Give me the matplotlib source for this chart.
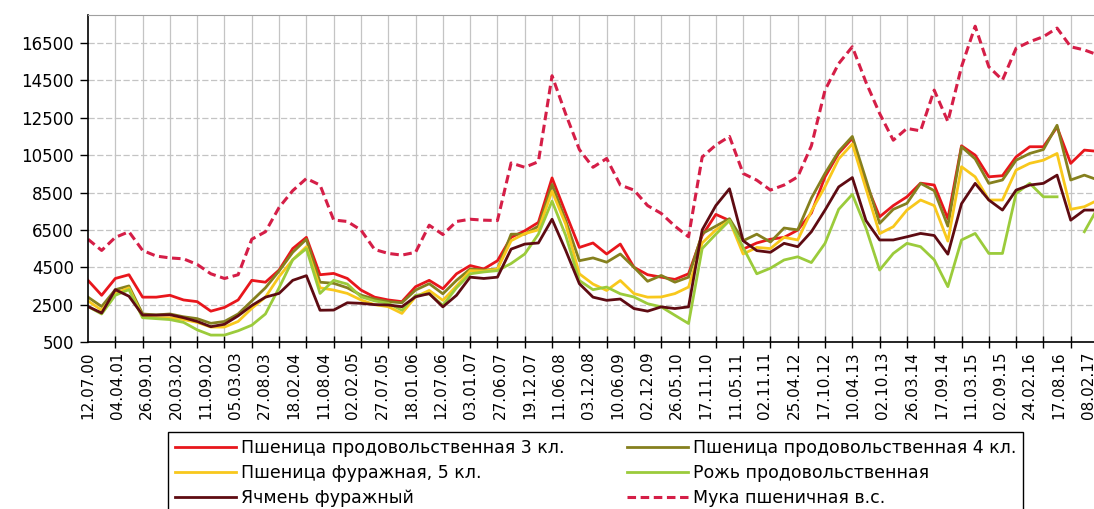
import numpy as np
import matplotlib.pyplot as plt

# x position in gridline units (one vertical gridline = one unit)
pos = np.arange(0, 37.5, 0.5)

dates = ['12.07.00', '04.04.01', '26.09.01', '20.03.02', '11.09.02', '05.03.03',
         '27.08.03', '18.02.04', '11.08.04', '02.02.05', '27.07.05', '18.01.06',
         '12.07.06', '03.01.07', '27.06.07', '19.12.07', '11.06.08', '03.12.08',
         '10.06.09', '02.12.09', '26.05.10', '17.11.10', '11.05.11', '02.11.11',
         '25.04.12', '17.10.12', '10.04.13', '02.10.13', '26.03.14', '17.09.14',
         '11.03.15', '02.09.15', '24.02.16', '17.08.16', '08.02.17']
label_step = 1.078   # labels drift slightly against the gridlines in the source

# --- series (rub/t), read every half gridline
wheat3 = [3800, 3000, 3900, 4100, 2900, 2900, 3000, 2750, 2660, 2150,
          2350, 2750, 3800, 3700, 4350, 5500, 6100, 4100, 4170, 3900,
          3280, 2900, 2750, 2660, 3460, 3800, 3350, 4150, 4590, 4410,
          4850, 6100, 6450, 6900, 9280, 7400, 5560, 5800, 5210, 5740,
          4500, 4100, 3970, 3850, 4150, 6200, 7330, 7000, 5470, 5800,
          6000, 6100, 6490, 7400, 9340, 10600, 11400, 9000, 7200, 7800,
          8270, 9000, 8900, 7100, 11000, 10500, 9340, 9400, 10410, 10950,
          10950, 12000, 10060, 10770, 10700]
wheat4 = [2900, 2400, 3300, 3500, 2000, 1950, 2000, 1850, 1750, 1500,
          1600, 2000, 2700, 3400, 4300, 5300, 6000, 3700, 3640, 3400,
          3010, 2800, 2660, 2600, 3280, 3620, 3080, 3800, 4410, 4350,
          4400, 6270, 6270, 6700, 8930, 7000, 4850, 5000, 4770, 5210,
          4500, 3750, 4060, 3700, 3970, 6300, 6700, 7100, 5920, 6270,
          5850, 6600, 6500, 8200, 9520, 10700, 11500, 9200, 6850, 7600,
          7920, 8990, 8600, 6700, 10950, 10300, 8990, 9170, 10230, 10590,
          10800, 12100, 9170, 9430, 9170]
feed5 = [2700, 2200, 3100, 3400, 1850, 1800, 1800, 1700, 1550, 1300,
         1300, 1600, 2300, 2900, 4000, 4900, 5600, 3400, 3280, 3100,
         2750, 2500, 2390, 2030, 2920, 3260, 2730, 3500, 4320, 4300,
         4400, 5920, 6300, 6500, 8570, 6800, 4150, 3600, 3260, 3790,
         3090, 2900, 2910, 3090, 3440, 5800, 6500, 7000, 5210, 5560,
         5500, 6100, 5960, 7500, 8810, 10300, 11100, 8700, 6300, 6670,
         7560, 8100, 7800, 5900, 9880, 9340, 8100, 8100, 9700, 10060,
         10230, 10590, 7600, 7740, 8100]
rye = [2400, 2000, 3000, 3300, 1800, 1750, 1700, 1550, 1150, 870,
       870, 1100, 1400, 2000, 3400, 4900, 5500, 3100, 3800, 3600,
       2920, 2700, 2570, 2200, 3000, 3080, 2460, 3400, 4150, 4250,
       4320, 4700, 5210, 6270, 8040, 6200, 3790, 3300, 3440, 3080,
       2910, 2550, 2380, 1930, 1490, 5500, 6270, 7000, 5560, 4150,
       4450, 4890, 5060, 4750, 5780, 7600, 8400, 6600, 4350, 5240,
       5780, 5600, 4900, 3460, 5960, 6310, 5240, 5240, 8450, 8990,
       8270, 8270, np.nan, 6400, 7700]
barley = [2400, 2050, 3300, 2950, 1940, 1940, 1960, 1800, 1600, 1320,
          1450, 1900, 2450, 2900, 3100, 3800, 4050, 2200, 2210, 2600,
          2570, 2500, 2480, 2390, 2920, 3090, 2380, 3000, 3970, 3900,
          3970, 5470, 5740, 5800, 7070, 5400, 3620, 2900, 2730, 2800,
          2290, 2150, 2380, 2290, 2380, 6500, 7800, 8700, 5920, 5390,
          5300, 5780, 5600, 6400, 7560, 8800, 9300, 7000, 5960, 5960,
          6130, 6310, 6200, 5200, 7900, 8990, 8100, 7560, 8630, 8900,
          8990, 9430, 7020, 7560, 7560]
flour = [6000, 5400, 6100, 6400, 5400, 5100, 5000, 4950, 4650, 4150,
         3900, 4100, 6000, 6400, 7700, 8600, 9250, 8900, 7030, 6950,
         6490, 5450, 5240, 5150, 5300, 6750, 6250, 6950, 7070, 7020,
         7000, 10080, 9850, 10150, 14750, 12700, 10800, 9850, 10320, 8900,
         8630, 7800, 7380, 6700, 6130, 10400, 11040, 11500, 9520, 9160,
         8630, 8900, 9340, 11000, 13980, 15400, 16300, 14400, 12730, 11300,
         11930, 11800, 13980, 12300, 15230, 17400, 15230, 14520, 16220, 16570,
         16840, 17300, 16300, 16130, 15860]

names = ['Пшеница продовольственная 3 кл.', 'Пшеница продовольственная 4 кл.',
         'Пшеница фуражная, 5 кл.', 'Рожь продовольственная',
         'Ячмень фуражный', 'Мука пшеничная в.с.']
colors = ['#E8161C', '#85801E', '#F8C81C', '#9BCB3B', '#5E0B12', '#D51E47']

plt.rcParams['font.family'] = ['DejaVu Sans']

fig = plt.figure(figsize=(10.94, 5.09), dpi=100)
ax = fig.add_axes([88/1094, 167/509, 1010/1094, 327/509])

series = [wheat3, wheat4, feed5, rye, barley]
lines = []
for y, c, n in zip(series, colors[:5], names[:5]):
    l, = ax.plot(pos, y, color=c, lw=2.0, label=n, solid_joinstyle='round')
    lines.append(l)
l, = ax.plot(pos, flour, color=colors[5], lw=2.2, ls=(0, (2.8, 1.5)), label=names[5])
lines.append(l)

ax.set_xlim(0, 37)
ax.set_ylim(500, 18000)
ax.set_yticks(np.arange(500, 16501, 2000))
ax.set_xticks(np.arange(len(dates))*label_step)
ax.set_xticklabels(dates, rotation=90, fontsize=11)
ax.set_xticks(np.arange(0, 38), minor=True)
ax.tick_params(axis='x', which='major', length=0, pad=7)
ax.tick_params(axis='x', which='minor', direction='inout', length=8, width=1)
ax.tick_params(axis='y', direction='out', length=6, width=1, labelsize=12, pad=4)

ax.xaxis.grid(True, which='minor', color='#c4c4c4', lw=0.9)
ax.xaxis.grid(False, which='major')
ax.yaxis.grid(True, color='#c4c4c4', lw=0.9, ls=(0, (5, 2)))
ax.set_axisbelow(True)

for s in ['left', 'bottom']:
    ax.spines[s].set_linewidth(1.2)
ax.spines['top'].set_color('#a0a0a0')
ax.spines['right'].set_visible(False)

# legend is filled column-wise, so reorder to get the row order of the source
order = [0, 2, 4, 1, 3, 5]
leg = fig.legend([lines[i] for i in order], [names[i] for i in order], ncol=2,
                 loc='upper left', bbox_to_anchor=(168/1094, 1 - 432/509),
                 fancybox=False, edgecolor='black', fontsize=12.5,
                 handlelength=3.5, handletextpad=0.3, columnspacing=3.6,
                 labelspacing=0.4, borderpad=0.4, borderaxespad=0)
leg.get_frame().set_linewidth(1.0)
leg.get_frame().set_alpha(1)

fig.savefig('out.png', dpi=100)
